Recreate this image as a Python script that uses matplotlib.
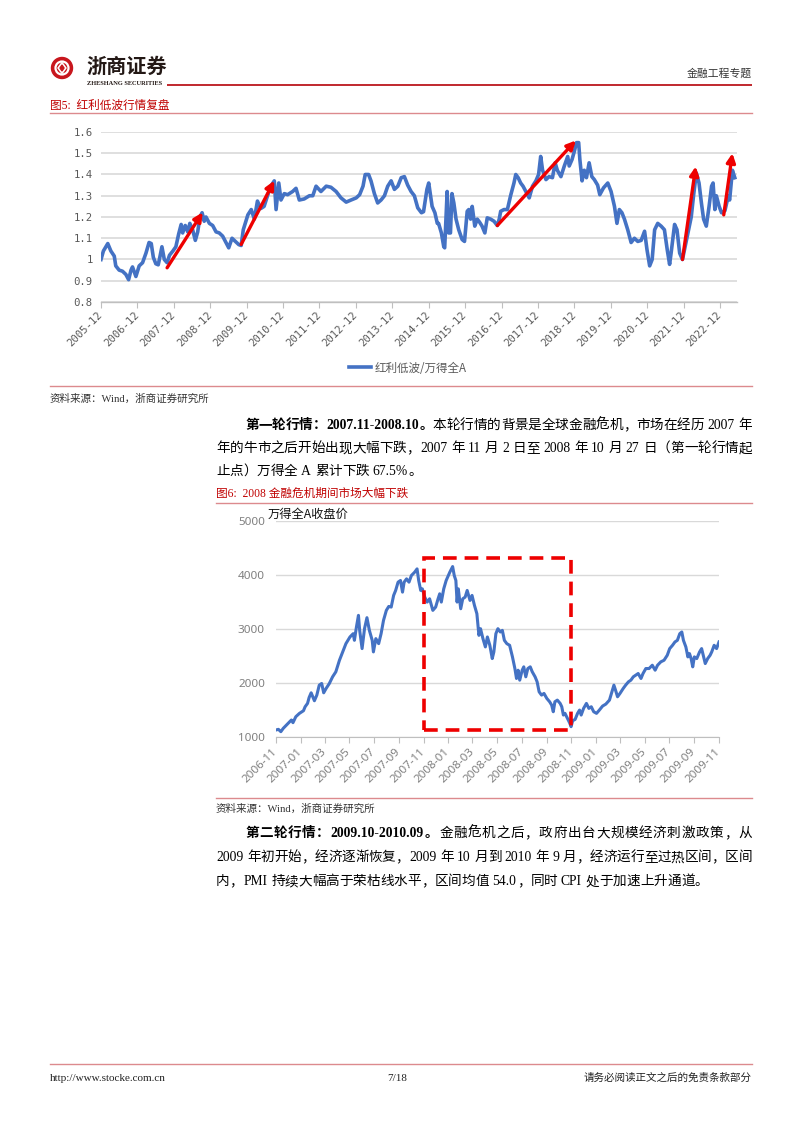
import matplotlib
matplotlib.use('Agg')
import matplotlib.pyplot as plt
from matplotlib.patches import Rectangle, Circle, Polygon
import matplotlib.dates as mdates
import pandas as pd

# ---------------- data: chart 1 (红利低波/万得全A) ----------------
dividend_dates = [
    '2005-12-01', '2005-12-25', '2006-02-07', '2006-03-10', '2006-04-13', '2006-04-28', '2006-06-01',
    '2006-07-04', '2006-08-07', '2006-09-04', '2006-09-28', '2006-10-13', '2006-11-16', '2006-12-19',
    '2007-01-22', '2007-02-25', '2007-03-28', '2007-04-19', '2007-05-10', '2007-06-04', '2007-06-28',
    '2007-07-16', '2007-08-04', '2007-08-28', '2007-09-25', '2007-10-19', '2007-11-22', '2007-12-22',
    '2008-01-19', '2008-02-13', '2008-02-28', '2008-03-25', '2008-04-19', '2008-05-10', '2008-06-07',
    '2008-07-04', '2008-07-28', '2008-08-19', '2008-09-10', '2008-10-01', '2008-10-19', '2008-11-22',
    '2008-12-25',
    '2009-01-28', '2009-03-01', '2009-04-04', '2009-05-07', '2009-06-04', '2009-07-07', '2009-08-10',
    '2009-09-13', '2009-10-07', '2009-10-28', '2009-12-13',
    '2010-01-16', '2010-02-16', '2010-03-19', '2010-04-22', '2010-05-25', '2010-06-28', '2010-08-01',
    '2010-09-04', '2010-09-22', '2010-10-19', '2010-11-10', '2010-12-13',
    '2011-01-16', '2011-03-07', '2011-04-10', '2011-05-13', '2011-07-01', '2011-08-22', '2011-09-25',
    '2011-10-28', '2011-12-16',
    '2012-02-07', '2012-03-25', '2012-05-16', '2012-07-04', '2012-08-25', '2012-10-13', '2012-12-04',
    '2013-01-07', '2013-02-10', '2013-03-04', '2013-04-07', '2013-05-01', '2013-06-04', '2013-07-07',
    '2013-08-10', '2013-09-13', '2013-10-16', '2013-11-19', '2013-12-22',
    '2014-01-25', '2014-02-28', '2014-04-01', '2014-05-04', '2014-06-07', '2014-07-10', '2014-08-13',
    '2014-09-19', '2014-10-10', '2014-11-13', '2014-12-01', '2014-12-19',
    '2015-01-04', '2015-02-01', '2015-02-25', '2015-03-10', '2015-04-07', '2015-05-01', '2015-05-10',
    '2015-06-04', '2015-06-19', '2015-07-07', '2015-07-22', '2015-08-10', '2015-09-01', '2015-09-28',
    '2015-11-01', '2015-11-25', '2015-12-22',
    '2016-01-07', '2016-01-25', '2016-02-10', '2016-03-07', '2016-04-01', '2016-04-25', '2016-05-19',
    '2016-06-16', '2016-07-10', '2016-08-13', '2016-09-16', '2016-10-19', '2016-11-07', '2016-11-22',
    '2016-12-25',
    '2017-01-28', '2017-03-01', '2017-04-04', '2017-04-22', '2017-05-16', '2017-06-10', '2017-07-04',
    '2017-08-01', '2017-09-04', '2017-10-07', '2017-11-10', '2017-12-07', '2017-12-28',
    '2018-01-16', '2018-02-19', '2018-03-22', '2018-04-25', '2018-05-22', '2018-06-13', '2018-07-19',
    '2018-08-22', '2018-09-25', '2018-10-10', '2018-11-07', '2018-12-01', '2018-12-22',
    '2019-01-13', '2019-01-25', '2019-02-16', '2019-03-10', '2019-04-01', '2019-04-28', '2019-05-25',
    '2019-06-19', '2019-07-22', '2019-08-13', '2019-09-19', '2019-11-01', '2019-12-04',
    '2020-01-07', '2020-02-01', '2020-02-25', '2020-03-22', '2020-04-16', '2020-05-19', '2020-06-22',
    '2020-07-25', '2020-08-28', '2020-10-01', '2020-11-04', '2020-11-28', '2020-12-25',
    '2021-01-19', '2021-02-13', '2021-03-16', '2021-04-19', '2021-05-22', '2021-06-19', '2021-07-13',
    '2021-07-28', '2021-09-01', '2021-09-25', '2021-10-22', '2021-11-19', '2021-12-10',
    '2022-01-13', '2022-02-15', '2022-03-10', '2022-04-07', '2022-05-04', '2022-05-28', '2022-06-19',
    '2022-07-16', '2022-08-13', '2022-09-07', '2022-09-22', '2022-10-10', '2022-10-25', '2022-11-22',
    '2022-12-16',
    '2023-01-19', '2023-02-22', '2023-03-07', '2023-04-04', '2023-04-28',
]
dividend_ratio = [
    1.00, 1.04, 1.075, 1.04, 1.016, 0.97, 0.95, 0.945, 0.93, 0.905, 0.95, 0.965, 0.92, 0.97,
    0.985, 1.03, 1.08, 1.075, 1.01, 0.98, 0.975, 1.015, 1.06, 1.0, 0.985, 1.02, 1.04, 1.06,
    1.12, 1.165, 1.125, 1.16, 1.13, 1.17, 1.14, 1.09, 1.13, 1.2, 1.22, 1.18, 1.2, 1.17, 1.16,
    1.13, 1.125, 1.11, 1.08, 1.055, 1.1, 1.085, 1.07, 1.066, 1.14, 1.21,
    1.235, 1.19, 1.275, 1.24, 1.25, 1.3, 1.345, 1.37, 1.235, 1.36, 1.28, 1.31,
    1.305, 1.32, 1.335, 1.28, 1.285, 1.3, 1.3, 1.345, 1.32,
    1.345, 1.34, 1.32, 1.29, 1.27, 1.28, 1.29,
    1.305, 1.345, 1.4, 1.4, 1.37, 1.31, 1.266, 1.28, 1.3, 1.345, 1.37, 1.33,
    1.345, 1.385, 1.39, 1.35, 1.32, 1.3, 1.243, 1.22, 1.225, 1.33, 1.36, 1.3,
    1.25, 1.22, 1.17, 1.17, 1.125, 1.06, 1.055, 1.32, 1.125, 1.125, 1.31, 1.266, 1.19, 1.14,
    1.094, 1.085, 1.227,
    1.235, 1.19, 1.25, 1.157, 1.19, 1.175, 1.157, 1.125, 1.196, 1.19, 1.18, 1.16, 1.19, 1.227, 1.235,
    1.235, 1.3, 1.36, 1.4, 1.385, 1.36, 1.345, 1.32, 1.29, 1.345, 1.37, 1.4, 1.485,
    1.42, 1.376, 1.39, 1.385, 1.455, 1.42, 1.39, 1.44, 1.485, 1.44, 1.47, 1.51, 1.55,
    1.55, 1.47, 1.37, 1.42, 1.385, 1.455, 1.39, 1.376, 1.35, 1.305, 1.337, 1.36, 1.32,
    1.25, 1.17, 1.235, 1.22, 1.19, 1.14, 1.08, 1.1, 1.085, 1.09, 1.133, 1.047, 0.97,
    1.0, 1.14, 1.17, 1.157, 1.14, 1.047, 0.977, 1.03, 1.165, 1.14, 1.03, 1.0, 1.047,
    1.125, 1.2, 1.3, 1.407, 1.36, 1.266, 1.19, 1.157, 1.25, 1.345, 1.36, 1.235, 1.3, 1.25, 1.22,
    1.23, 1.3, 1.28, 1.42, 1.385,
]
arrow_from_dates = ['2007-09-25', '2009-10-07', '2016-10-19', '2021-11-19', '2023-01-07']
arrow_from_values = [0.961, 1.071, 1.16, 1.0, 1.21]
arrow_to_dates = ['2008-09-16', '2010-09-04', '2018-12-16', '2022-04-01', '2023-04-04']
arrow_to_values = [1.222, 1.371, 1.56, 1.438, 1.50]
chart1_xticks = ['%d-12' % y for y in range(2005, 2023)]
chart1_yticks = [0.8, 0.9, 1.0, 1.1, 1.2, 1.3, 1.4, 1.5, 1.6]
chart1_ylabels = ['0.8', '0.9', '1', '1.1', '1.2', '1.3', '1.4', '1.5', '1.6']
chart1_legend = '红利低波/万得全A'

# ---------------- data: chart 2 (万得全A收盘价) ----------------
wind_dates = [
    '2006-11-01', '2006-11-07', '2006-11-13', '2006-11-19', '2006-11-27', '2006-12-05', '2006-12-09',
    '2006-12-13', '2006-12-20', '2006-12-29',
    '2007-01-08', '2007-01-12', '2007-01-18', '2007-01-22', '2007-01-27', '2007-01-31', '2007-02-04',
    '2007-02-10', '2007-02-16', '2007-02-22', '2007-02-27',
    '2007-03-05', '2007-03-13', '2007-03-21', '2007-03-29', '2007-04-07', '2007-04-15', '2007-04-23',
    '2007-05-03', '2007-05-11', '2007-05-14', '2007-05-19', '2007-05-24', '2007-05-27',
    '2007-06-02', '2007-06-08', '2007-06-14', '2007-06-20', '2007-06-27', '2007-06-30', '2007-07-06',
    '2007-07-13', '2007-07-19', '2007-07-25',
    '2007-08-01', '2007-08-07', '2007-08-13', '2007-08-19', '2007-08-24', '2007-08-30', '2007-09-05',
    '2007-09-10', '2007-09-14', '2007-09-20', '2007-09-26',
    '2007-10-02', '2007-10-10', '2007-10-16', '2007-10-20', '2007-10-25', '2007-10-29', '2007-11-04',
    '2007-11-10', '2007-11-16', '2007-11-24',
    '2007-12-01', '2007-12-07', '2007-12-11', '2007-12-15', '2007-12-21', '2007-12-27',
    '2008-01-05', '2008-01-12', '2008-01-16', '2008-01-20', '2008-01-23', '2008-01-26', '2008-02-01',
    '2008-02-06', '2008-02-12', '2008-02-17', '2008-02-24', '2008-02-29',
    '2008-03-06', '2008-03-12', '2008-03-17', '2008-03-21', '2008-03-27', '2008-04-02', '2008-04-07',
    '2008-04-13', '2008-04-19', '2008-04-23', '2008-04-28',
    '2008-05-03', '2008-05-09', '2008-05-14', '2008-05-19', '2008-05-25', '2008-06-01', '2008-06-08',
    '2008-06-14', '2008-06-18', '2008-06-22', '2008-06-26',
    '2008-07-02', '2008-07-06', '2008-07-11', '2008-07-16', '2008-07-22', '2008-07-27', '2008-08-03',
    '2008-08-08', '2008-08-13', '2008-08-19', '2008-08-25',
    '2008-09-01', '2008-09-08', '2008-09-13', '2008-09-17', '2008-09-21', '2008-09-27', '2008-10-04',
    '2008-10-08', '2008-10-12', '2008-10-16', '2008-10-20', '2008-10-24', '2008-10-28', '2008-10-31',
    '2008-11-04', '2008-11-10', '2008-11-16', '2008-11-21', '2008-11-25', '2008-12-01', '2008-12-08',
    '2008-12-14', '2008-12-20', '2008-12-26',
    '2009-01-02', '2009-01-09', '2009-01-17', '2009-01-25', '2009-02-03', '2009-02-08', '2009-02-14',
    '2009-02-18', '2009-02-23',
    '2009-03-01', '2009-03-09', '2009-03-15', '2009-03-22', '2009-03-28', '2009-04-03', '2009-04-09',
    '2009-04-15', '2009-04-22', '2009-04-27',
    '2009-05-04', '2009-05-12', '2009-05-20', '2009-05-27', '2009-06-02', '2009-06-10', '2009-06-18',
    '2009-06-26',
    '2009-07-02', '2009-07-09', '2009-07-15', '2009-07-21', '2009-07-27', '2009-08-01', '2009-08-05',
    '2009-08-11', '2009-08-16', '2009-08-20', '2009-08-24', '2009-08-28',
    '2009-09-01', '2009-09-07', '2009-09-14', '2009-09-19', '2009-09-24', '2009-09-28', '2009-10-04',
    '2009-10-10', '2009-10-14', '2009-10-20', '2009-10-26', '2009-11-01',
]
wind_close = [
    1135, 1147, 1104, 1166, 1227, 1288, 1319, 1270, 1380, 1442,
    1491, 1564, 1626, 1736, 1822, 1748, 1675, 1779, 1963, 1994, 1822,
    1902, 1994, 2117, 2209, 2423, 2577, 2730, 2853, 2914, 2791, 3037, 3252, 2975,
    2638, 3006, 3209, 2975, 2791, 2577, 2822, 2730, 2914, 3160,
    3344, 3417, 3405, 3620, 3712, 3865, 3896, 3681, 3865, 3926, 3865,
    3988, 4049, 4110, 3896, 3712, 3742, 3589, 3497, 3558, 3344,
    3405, 3558, 3650, 3497, 3742, 3896,
    4049, 4153, 3988, 3896, 3497, 3742, 3374, 3558, 3589, 3712, 3528, 3620,
    3436, 3282, 2883, 3006, 2822, 2669, 2853, 2699, 2454, 2577, 2914,
    3006, 2945, 2975, 2791, 2730, 2699, 2485, 2270, 2086, 2239, 2055,
    2239, 2301, 2117, 2270, 2301, 2209, 2117, 2025, 1840, 1779, 1810,
    1718, 1656, 1595, 1472, 1656, 1687, 1626, 1564, 1411, 1442, 1380, 1319, 1258, 1196,
    1307, 1330, 1440, 1503, 1411, 1534, 1626, 1534, 1564, 1472,
    1442, 1503, 1577, 1613, 1687, 1810, 1963, 1871, 1748,
    1810, 1902, 1963, 2025, 2055, 2117, 2147, 2178, 2086, 2178,
    2270, 2270, 2331, 2239, 2331, 2393, 2423, 2515,
    2638, 2699, 2761, 2791, 2914, 2945, 2791, 2669, 2485, 2546, 2454, 2301,
    2485, 2454, 2577, 2638, 2485, 2362, 2454, 2515, 2577, 2699, 2638, 2761,
]
crash_box_dates = ['2007-11-02', '2008-11-01']
crash_box_values = [1135, 4313]
chart2_xticks = ['2006-11', '2007-01', '2007-03', '2007-05', '2007-07', '2007-09', '2007-11',
                 '2008-01', '2008-03', '2008-05', '2008-07', '2008-09', '2008-11',
                 '2009-01', '2009-03', '2009-05', '2009-07', '2009-09', '2009-11']
chart2_yticks = [1000, 2000, 3000, 4000, 5000]
chart2_ylabel = '万得全A收盘价'

# ---------------- page text ----------------
header_right = '金融工程专题'
fig5_title = '图5:  红利低波行情复盘'
fig6_title = '图6:  2008 金融危机期间市场大幅下跌'
source_text = '资料来源：Wind，浙商证券研究所'
para1 = [
    [('第一轮行情：2007.11-2008.10。', 'bold'), ('本轮行情的背景是全球金融危机，市场在经历 2007 年', 'normal')],
    [('年的牛市之后开始出现大幅下跌，2007 年 11 月 2 日至 2008 年 10 月 27 日（第一轮行情起', 'normal')],
    [('止点）万得全 A 累计下跌 67.5%。', 'normal')],
]
para2 = [
    [('第二轮行情：2009.10-2010.09。', 'bold'), ('金融危机之后，政府出台大规模经济刺激政策，从', 'normal')],
    [('2009 年初开始，经济逐渐恢复，2009 年 10 月到 2010 年 9 月，经济运行至过热区间，区间', 'normal')],
    [('内，PMI 持续大幅高于荣枯线水平，区间均值 54.0，同时 CPI 处于加速上升通道。', 'normal')],
]
footer_left = 'http://www.stocke.com.cn'
footer_mid = '7/18'
footer_right = '请务必阅读正文之后的免责条款部分'

# ---------------- figure ----------------
W, H = 802, 1133
fig = plt.figure(figsize=(W / 100, H / 100), dpi=100)
fig.patch.set_facecolor('white')
BODY = ['Liberation Serif', 'Noto Sans CJK SC']
CJK = ['Noto Sans CJK SC', 'DejaVu Sans']
BLUE = '#4472C4'
PINK = '#dc8a8e'

page = fig.add_axes([0, 0, 1, 1], zorder=0)
page.set_xlim(0, W)
page.set_ylim(H, 0)
page.axis('off')
renderer = fig.canvas.get_renderer()


def em(size):
    return size * 100 / 72


def put(x, yc, s, size, color='#000000', ha='left', fam=BODY, weight='normal'):
    return page.text(x, yc + 0.38 * em(size), s, fontsize=size, color=color, ha=ha,
                     va='baseline', family=fam, fontweight=weight)


def is_cjk(s):
    return len(s) == 1 and ord(s) >= 0x2E80


def justified(segments, x0, yc, x1=None, size=9.8, color='#000000'):
    px = em(size)
    tokens = []
    for txt, wt in segments:
        buf = ''
        for ch in txt:
            if is_cjk(ch) or ch == ' ':
                if buf:
                    tokens.append((buf, wt))
                    buf = ''
                tokens.append((ch, wt))
            else:
                buf += ch
        if buf:
            tokens.append((buf, wt))
    items = []
    for tk, wt in tokens:
        if tk == ' ':
            items.append((None, px * 0.25))
            continue
        t = put(0, yc, tk, size, color=color, weight=wt)
        if is_cjk(tk):
            items.append((t, px))
        else:
            items.append((t, t.get_window_extent(renderer).width + 0.5))
    total = sum(w for _, w in items)
    gap = 0.0
    if x1 is not None and len(items) > 1:
        gap = (x1 - x0 - total) / (len(items) - 1)
    x = x0
    for t, w in items:
        if t is not None:
            t.set_x(x)
        x += w + gap


# ---- header ----
page.add_patch(Circle((62, 68), 10.5, color='#c8161d', zorder=2))
page.add_patch(Circle((62, 68), 6.5, fc='none', ec='white', lw=1.6, zorder=3))
page.add_patch(Polygon([[62, 62.5], [66, 68], [62, 73.5], [58, 68]], closed=True, color='white', zorder=3))
page.add_patch(Polygon([[62, 65], [64, 68], [62, 71], [60, 68]], closed=True, color='#c8161d', zorder=4))
put(86, 65.5, '浙商证券', 14.5, color='#231815', fam=CJK, weight='bold')
put(87, 83, 'ZHESHANG SECURITIES', 4.6, color='#231815', fam=['Liberation Serif'], weight='bold')
page.plot([167, 752], [84.5, 84.5], color='#c0282d', lw=1.4, solid_capstyle='butt')
put(752, 73, header_right, 7.8, color='#333333', ha='right', fam=CJK)

# ---- figure 5 title & frame lines ----
put(50, 104, fig5_title, 8.4, color='#c00000')
page.plot([50, 752], [112.5, 112.5], color=PINK, lw=1.0)
page.plot([50, 752], [385.5, 385.5], color=PINK, lw=1.0)
put(50, 398, source_text, 7.6, color='#333333')

for i, line in enumerate(para1):
    first = i == 0
    justified(line, 245 if first else 216, 424 + 23 * i, None if i == len(para1) - 1 else 752)

put(216, 492, fig6_title, 8.4, color='#c00000')
page.plot([216, 752], [502.5, 502.5], color=PINK, lw=1.0)
page.plot([216, 752], [797.5, 797.5], color=PINK, lw=1.0)
put(216, 808, source_text, 7.6, color='#333333')

for i, line in enumerate(para2):
    first = i == 0
    justified(line, 245 if first else 216, 832 + 24 * i, None if i == len(para2) - 1 else 752)

page.plot([50, 752], [1063.5, 1063.5], color=PINK, lw=1.0)
put(50, 1077, footer_left, 8.0, color='#222222', fam=['Liberation Serif'])
put(397, 1077, footer_mid, 8.0, color='#222222', ha='center', fam=['Liberation Serif'])
put(752, 1077, footer_right, 7.6, color='#222222', ha='right', fam=CJK)

# ---------------- chart 1 ----------------
ax1 = fig.add_axes([101 / W, 1 - 302 / H, 636 / W, 170 / H], zorder=2)
ax1.set_facecolor('none')
ax1.plot(pd.to_datetime(dividend_dates), dividend_ratio, color=BLUE, lw=2.6, solid_joinstyle='round',
         label=chart1_legend, zorder=3)
for d0, v0, d1, v1 in zip(arrow_from_dates, arrow_from_values, arrow_to_dates, arrow_to_values):
    ax1.annotate('', xy=(pd.Timestamp(d1), v1), xytext=(pd.Timestamp(d0), v0),
                 arrowprops=dict(arrowstyle='-|>', color='#ee0000', lw=2.4, mutation_scale=13,
                                 shrinkA=0, shrinkB=0), zorder=4)
ax1.set_xlim(pd.Timestamp('2005-12-01'), pd.Timestamp('2023-05-20'))
ax1.set_ylim(0.8, 1.6)
ax1.set_yticks(chart1_yticks)
ax1.set_yticklabels(chart1_ylabels)
ax1.set_xticks(pd.to_datetime([t + '-01' for t in chart1_xticks]))
ax1.set_xticklabels(chart1_xticks, rotation=45, ha='right', va='center', rotation_mode='anchor')
for lab in ax1.get_xticklabels() + ax1.get_yticklabels():
    lab.set_family('DejaVu Sans Mono')
    lab.set_fontsize(7.7)
    lab.set_color('#595959')
ax1.tick_params(axis='y', length=0, pad=6)
ax1.tick_params(axis='x', length=4, width=0.8, color='#bfbfbf', pad=4)
ax1.yaxis.grid(True, color='#d9d9d9', lw=1.2)
ax1.set_axisbelow(True)
for s in ['top', 'right', 'left']:
    ax1.spines[s].set_visible(False)
ax1.spines['bottom'].set_color('#bfbfbf')
ax1.spines['bottom'].set_linewidth(1.0)
leg = ax1.legend(loc='center', bbox_to_anchor=(408 / W, 1 - 368 / H), bbox_transform=fig.transFigure,
                 frameon=False, handlelength=1.9, handletextpad=0.3,
                 prop={'family': CJK, 'size': 8.3})
for t in leg.get_texts():
    t.set_color('#595959')

# ---------------- chart 2 ----------------
ax2 = fig.add_axes([276 / W, 1 - 737.3 / H, 443 / W, 216.6 / H], zorder=2)
ax2.set_facecolor('none')
ax2.plot(pd.to_datetime(wind_dates), wind_close, color=BLUE, lw=2.2, solid_joinstyle='round', zorder=3)
bx0, bx1 = mdates.date2num(pd.to_datetime(crash_box_dates))
ax2.add_patch(Rectangle((bx0, crash_box_values[0]), bx1 - bx0, crash_box_values[1] - crash_box_values[0],
                        fill=False, ec='#ee0000', lw=2.6, ls=(0, (3.8, 2.2)), zorder=4, clip_on=False))
ax2.set_xlim(pd.Timestamp('2006-11-01'), pd.Timestamp('2009-11-01'))
ax2.set_ylim(1000, 5000)
ax2.set_yticks(chart2_yticks)
ax2.set_yticklabels([str(v) for v in chart2_yticks])
ax2.set_xticks(pd.to_datetime([t + '-01' for t in chart2_xticks]))
ax2.set_xticklabels(chart2_xticks, rotation=45, ha='right', va='center', rotation_mode='anchor')
for lab in ax2.get_xticklabels() + ax2.get_yticklabels():
    lab.set_family(['Noto Sans', 'DejaVu Sans'])
    lab.set_fontsize(8.4)
    lab.set_color('#808080')
ax2.tick_params(axis='y', length=0, pad=8)
ax2.tick_params(axis='x', length=4, width=0.8, color='#bfbfbf', pad=5)
ax2.yaxis.grid(True, color='#d9d9d9', lw=1.0)
ax2.set_axisbelow(True)
for s in ['top', 'right', 'left']:
    ax2.spines[s].set_visible(False)
ax2.spines['bottom'].set_color('#bfbfbf')
ax2.text(-0.02, 1.0, chart2_ylabel, transform=ax2.transAxes, ha='left', va='bottom',
         fontsize=8.8, family=CJK, color='#111111')

fig.savefig('out.png', dpi=100)
